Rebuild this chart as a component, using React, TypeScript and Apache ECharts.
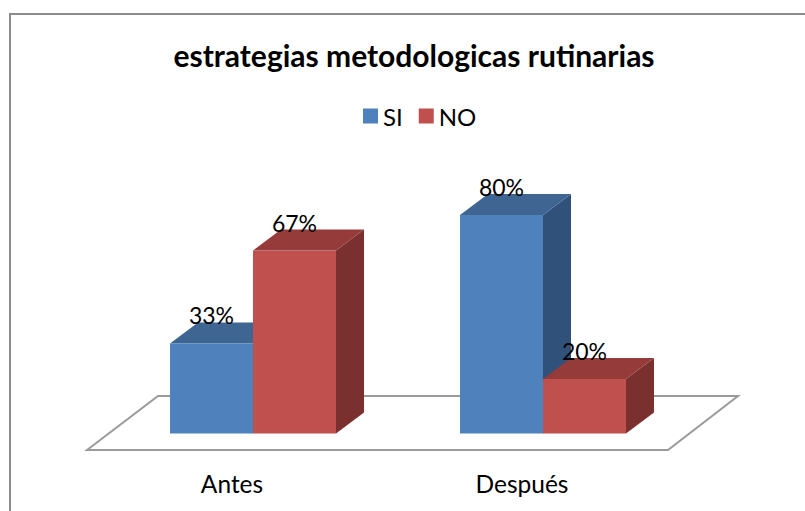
import React, { useEffect, useRef } from "react";
import * as echarts from "echarts";

const categories = ["Antes", "Después"];
const siValues = [33, 80];
const noValues = [67, 20];
const titleText = "estrategias metodologicas rutinarias";

const FONT = "Lato, 'Open Sans', sans-serif";
const DX = 28;
const DY = 21;
const BAR_RATIO = 83 / 290;

function makeRenderItem(side: number, front: string, top: string, right: string) {
  return (_params: any, api: any) => {
    const base = api.coord([api.value(0), 0]);
    const head = api.coord([api.value(0), api.value(1)]);
    const w = api.size([1, 0])[0] * BAR_RATIO;
    const x0 = base[0] + (side < 0 ? -w : 0);
    const x1 = x0 + w;
    const yb = base[1];
    const yt = head[1];
    return {
      type: "group",
      children: [
        {
          type: "polygon",
          shape: { points: [[x1, yb], [x1 + DX, yb - DY], [x1 + DX, yt - DY], [x1, yt]] },
          style: { fill: right },
        },
        {
          type: "polygon",
          shape: { points: [[x0, yt], [x0 + DX, yt - DY], [x1 + DX, yt - DY], [x1, yt]] },
          style: { fill: top },
        },
        {
          type: "rect",
          shape: { x: x0, y: yt, width: w, height: yb - yt },
          style: { fill: front },
        },
        {
          type: "text",
          z2: 10,
          style: {
            x: (x0 + x1) / 2,
            y: yt - 28,
            text: api.value(1) + "%",
            fill: "#000",
            font: `23px ${FONT}`,
            align: "center",
            verticalAlign: "middle",
          },
        },
      ],
    };
  };
}

export default function App() {
  const ref = useRef<HTMLDivElement>(null);
  useEffect(() => {
    document.body.style.margin = "0";
    const chart = echarts.init(ref.current!, null, { renderer: "svg" });
    chart.setOption({
      animation: false,
      backgroundColor: "#fff",
      title: {
        text: titleText,
        left: 409,
        top: 35,
        textAlign: "center",
        textStyle: { fontFamily: FONT, fontSize: 30, fontWeight: "bold", color: "#000" },
      },
      legend: {
        data: [
          { name: "SI", icon: "rect", itemStyle: { color: "#4F81BD" } },
          { name: "NO", icon: "rect", itemStyle: { color: "#C0504D" } },
        ],
        left: 358,
        top: 99,
        itemWidth: 15,
        itemHeight: 15,
        itemGap: 16,
        textStyle: { fontFamily: FONT, fontSize: 24, color: "#000", padding: [0, 0, 0, 0] },
      },
      grid: { left: 108, width: 580, top: 160.5, height: 273 },
      xAxis: {
        type: "category",
        data: categories,
        axisLine: { show: false },
        axisTick: { show: false },
        axisLabel: { fontFamily: FONT, fontSize: 24.5, color: "#000", margin: 37, padding: [0, 42, 0, 0] },
      },
      yAxis: { type: "value", min: 0, max: 100, show: false },
      graphic: [
        {
          type: "rect",
          z: -10,
          silent: true,
          shape: { x: 10, y: 14, width: 810, height: 520 },
          style: { fill: "none", stroke: "#8c8c8c", lineWidth: 2 },
        },
        {
          type: "polygon",
          z: -5,
          silent: true,
          shape: { points: [[87, 450], [158, 396], [738, 396], [668, 450]] },
          style: { fill: "#fff", stroke: "#9a9a9a", lineWidth: 2 },
        },
      ],
      series: [
        {
          name: "SI",
          type: "custom",
          renderItem: makeRenderItem(-1, "#4F81BD", "#3F6592", "#30527A"),
          encode: { x: 0, y: 1 },
          data: siValues.map((v, i) => [i, v]),
          itemStyle: { color: "#4F81BD" },
          silent: true,
        },
        {
          name: "NO",
          type: "custom",
          renderItem: makeRenderItem(1, "#C0504D", "#953B39", "#7A302F"),
          encode: { x: 0, y: 1 },
          data: noValues.map((v, i) => [i, v]),
          itemStyle: { color: "#C0504D" },
          silent: true,
        },
      ],
    });
    return () => chart.dispose();
  }, []);
  return <div ref={ref} style={{ width: 805, height: 511 }} />;
}
